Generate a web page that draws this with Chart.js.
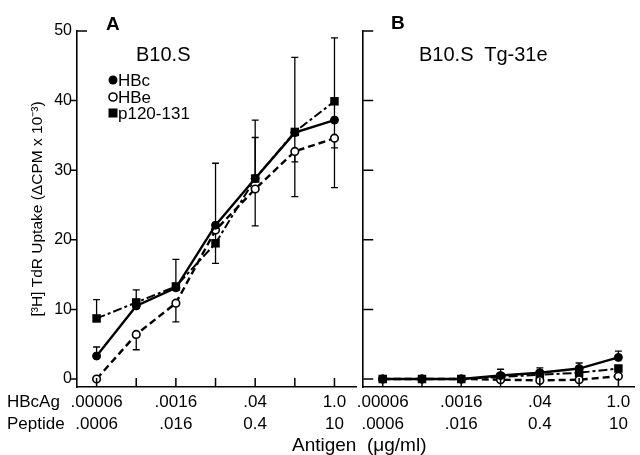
<!DOCTYPE html>
<html>
<head>
<meta charset="utf-8">
<script src="https://cdn.jsdelivr.net/npm/chart.js@4/dist/chart.umd.min.js"></script>
<style>
html, body { margin: 0; padding: 0; background: #fff; }
#wrap { position: relative; width: 640px; height: 455px; overflow: hidden; font-family: "Liberation Sans", Arial, sans-serif; color: #000; }
#chartA { position: absolute; left: 0; top: 0; }
#chartB { position: absolute; left: 352px; top: 0; }
.lbl { position: absolute; white-space: pre; line-height: 1; }
.row { position: absolute; white-space: pre; line-height: 22px; font-size: 17px; }
</style>
</head>
<body>
<div id="wrap">
  <canvas id="chartA" width="362" height="455"></canvas>
  <canvas id="chartB" width="288" height="455"></canvas>
  <div class="lbl" style="left:106px;top:14px;font-size:19px;font-weight:bold;">A</div>
  <div class="lbl" style="left:391px;top:13px;font-size:19px;font-weight:bold;">B</div>
  <div class="lbl" style="left:136px;top:44px;font-size:20px;">B10.S</div>
  <div class="lbl" style="left:419px;top:44px;font-size:20px;">B10.S  Tg-31e</div>
  <div class="row" style="left:7px;top:391px;">HBcAg</div>
  <div class="row" style="left:7px;top:413px;">Peptide</div>
  <div class="lbl" style="left:292px;top:435px;font-size:19px;">Antigen  (μg/ml)</div>
</div>
<script>
// === DATA ===
const xIdx = [0, 1, 2, 3, 4, 5, 6];
const hbcAgTicks = ['.00006', '', '.0016', '', '.04', '', '1.0'];
const peptideTicks = ['.0006', '', '.016', '', '0.4', '', '10'];
const yTicks = [0, 10, 20, 30, 40, 50];

// panel A - B10.S
const hbcA = [3.3, 10.5, 13.1, 22.1, 28.8, 35.4, 37.2];
const hbeA = [0, 6.4, 10.9, 21.4, 27.3, 32.7, 34.6];
const pepA = [8.7, 11.0, 13.3, 19.5, 28.8, 35.5, 39.9];
const hbcALo = [3.3, 10.5, 13.1, 22.1, 28.8, 26.2, 27.5];
const hbcAHi = [4.6, 12.8, 17.2, 31.0, 37.2, 46.2, 49.0];
const hbeALo = [0, 4.2, 8.2, 16.6, 22.0, 31.2, 33.2];
const hbeAHi = [0, 6.4, 10.9, 21.4, 27.3, 32.7, 34.6];
const pepALo = [8.7, 11.0, 13.3, 19.5, 28.8, 35.5, 39.9];
const pepAHi = [11.4, 11.0, 13.3, 19.5, 34.7, 35.5, 39.9];

// panel B - B10.S Tg-31e
const hbcB = [0, 0, 0, 0.5, 0.9, 1.5, 3.1];
const hbeB = [0, 0, 0, -0.1, -0.2, -0.1, 0.4];
const pepB = [0, 0, 0, 0.3, 0.6, 0.9, 1.5];
const hbcBLo = [0, 0, 0, 0.5, 0.9, 1.5, 3.1];
const hbcBHi = [0, 0, 0, 1.4, 1.6, 2.3, 4.0];

Chart.defaults.font.family = '"Liberation Sans", Arial, sans-serif';
Chart.defaults.color = '#000';

const pts = vals => vals.map((v, i) => ({ x: xIdx[i], y: v }));

function makeDatasets(hbc, hbe, pep, err) {
    return [
        { label: 'HBc', data: pts(hbc), borderColor: '#000', borderWidth: 2.4, pointStyle: 'circle',
          pointRadius: 4, pointBackgroundColor: '#000', pointBorderColor: '#000', pointBorderWidth: 1,
          errLo: err.hbcLo, errHi: err.hbcHi },
        { label: 'HBe', data: pts(hbe), borderColor: '#000', borderWidth: 2.4, borderDash: [7, 4], pointStyle: 'circle',
          pointRadius: 3.8, pointBackgroundColor: '#fff', pointBorderColor: '#000', pointBorderWidth: 1.6,
          errLo: err.hbeLo, errHi: err.hbeHi },
        { label: 'p120-131', data: pts(pep), borderColor: '#000', borderWidth: 2, borderDash: [9, 3, 3, 3], pointStyle: 'rect',
          pointRadius: 6, pointBackgroundColor: '#000', pointBorderColor: '#000', pointBorderWidth: 0,
          errLo: err.pepLo, errHi: err.pepHi }
    ];
}

// error bars and tick marks, drawn through the chart scales
const marksPlugin = {
    id: 'marks',
    beforeDatasetsDraw(chart, args, opts) {
        const { ctx, scales: { x, y } } = chart;
        ctx.save();
        ctx.strokeStyle = '#000';
        ctx.lineWidth = 1.3;
        chart.data.datasets.forEach(ds => {
            if (!ds.errLo) return;
            ds.data.forEach((p, i) => {
                const lo = ds.errLo[i], hi = ds.errHi[i];
                if (lo >= p.y && hi <= p.y) return;
                const px = x.getPixelForValue(p.x);
                const pl = y.getPixelForValue(lo), ph = y.getPixelForValue(hi);
                ctx.beginPath();
                ctx.moveTo(px, pl); ctx.lineTo(px, ph);
                if (hi > p.y) { ctx.moveTo(px - 3.5, ph); ctx.lineTo(px + 3.5, ph); }
                if (lo < p.y) { ctx.moveTo(px - 3.5, pl); ctx.lineTo(px + 3.5, pl); }
                ctx.stroke();
            });
        });
        ctx.restore();
    },
    afterDraw(chart, args, opts) {
        const { ctx, chartArea, scales: { x, y } } = chart;
        ctx.save();
        ctx.strokeStyle = '#000';
        ctx.lineWidth = 1.5;
        ctx.beginPath();
        xIdx.forEach(v => {
            const px = x.getPixelForValue(v);
            ctx.moveTo(px, chartArea.bottom); ctx.lineTo(px, chartArea.bottom - 9);
        });
        yTicks.forEach(v => {
            const py = y.getPixelForValue(v);
            if (opts.yOut && v < 50) { ctx.moveTo(chartArea.left, py); ctx.lineTo(chartArea.left - 6, py); }
            else { ctx.moveTo(chartArea.left, py); ctx.lineTo(chartArea.left + 10, py); }
        });
        ctx.stroke();

        if (opts.legend) {
            const lx = 113;
            const rows = [80, 97, 113];
            ctx.fillStyle = '#000';
            ctx.beginPath(); ctx.arc(lx, rows[0], 4.5, 0, Math.PI * 2); ctx.fill();
            ctx.lineWidth = 1.6;
            ctx.beginPath(); ctx.arc(lx, rows[1], 4, 0, Math.PI * 2); ctx.stroke();
            ctx.fillRect(lx - 4.5, rows[2] - 4.5, 9, 9);
            ctx.font = '17px "Liberation Sans", Arial, sans-serif';
            ctx.textBaseline = 'middle';
            chart.data.datasets.forEach((ds, i) => ctx.fillText(ds.label, lx + 5, rows[i] + 1));
        }
        ctx.restore();
    }
};

function makeOptions(xMin, xMax, isA) {
    return {
        responsive: false,
        animation: false,
        layout: { padding: { top: 31, left: 0, right: 0, bottom: 0 } },
        plugins: {
            legend: { display: false },
            tooltip: { enabled: false },
            marks: { yOut: isA, legend: isA }
        },
        elements: { line: { tension: 0 } },
        scales: {
            x: {
                type: 'linear', min: xMin, max: xMax,
                afterBuildTicks: s => { s.ticks = xIdx.map(v => ({ value: v })); },
                afterFit: s => { s.height = 68; },
                grid: { display: false, drawTicks: false },
                border: { display: true, color: '#000', width: 1.6 },
                ticks: {
                    autoSkip: false, maxRotation: 0, padding: 4,
                    font: { size: 17, lineHeight: 1.3 },
                    callback: v => hbcAgTicks[v] ? [hbcAgTicks[v], peptideTicks[v]] : ''
                }
            },
            y: {
                min: -1.15, max: 50,
                afterBuildTicks: s => { s.ticks = yTicks.map(v => ({ value: v })); },
                afterFit: s => { s.width = isA ? 77 : 10; },
                grid: { display: false, drawTicks: false },
                border: { display: true, color: '#000', width: 1.6 },
                ticks: { display: isA, padding: 5, font: { size: 16 } },
                title: {
                    display: isA,
                    text: '[³H] TdR Uptake (ΔCPM x 10⁻³)',
                    font: { size: 15.5 },
                    padding: { top: 28, bottom: 0 }
                }
            }
        }
    };
}

new Chart(document.getElementById('chartA'), {
    type: 'line',
    data: { datasets: makeDatasets(hbcA, hbeA, pepA, {
        hbcLo: hbcALo, hbcHi: hbcAHi, hbeLo: hbeALo, hbeHi: hbeAHi, pepLo: pepALo, pepHi: pepAHi }) },
    options: makeOptions(-0.494, 6.543, true),
    plugins: [marksPlugin]
});

new Chart(document.getElementById('chartB'), {
    type: 'line',
    data: { datasets: makeDatasets(hbcB, hbeB, pepB, {
        hbcLo: hbcBLo, hbcHi: hbcBHi, hbeLo: null, hbeHi: null, pepLo: null, pepHi: null }) },
    options: makeOptions(-0.496, 6.397, false),
    plugins: [marksPlugin]
});
</script>
</body>
</html>
